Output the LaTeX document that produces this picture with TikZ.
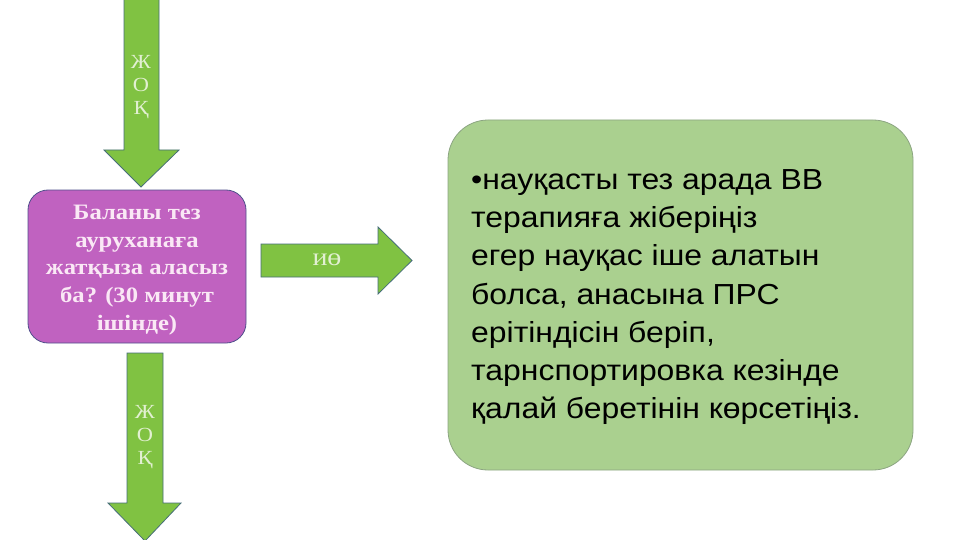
\documentclass[tikz,border=0pt]{standalone}
\usepackage{fontspec}
\setmainfont{Liberation Serif}
\newfontfamily\boxserif[FakeStretch=1.12]{Liberation Serif}
\newfontfamily\boxsans[FakeStretch=1.1]{Liberation Sans}
\definecolor{arrowgreen}{RGB}{128,194,66}
\definecolor{arrowedge}{RGB}{70,110,120}
\definecolor{arrowtext}{RGB}{226,240,210}
\definecolor{boxpurple}{RGB}{192,98,192}
\definecolor{purpleedge}{RGB}{80,80,140}
\definecolor{purpletext}{RGB}{250,232,245}
\definecolor{boxgreen}{RGB}{170,208,143}
\definecolor{greenedge}{RGB}{140,165,130}
\tikzset{
  blockarrow/.style={fill=arrowgreen, draw=arrowedge, line width=0.8pt, line join=miter},
  arrowlabel/.style={text=arrowtext, font=\boxserif\fontsize{20}{23}\selectfont, align=center, inner sep=0pt},
}
\begin{document}
\begin{tikzpicture}[x=1pt,y=-1pt]
\useasboundingbox (0,0) rectangle (960,540);
\fill[white] (0,0) rectangle (960,540);
% top arrow
\draw[blockarrow] (124,-1) -- (159,-1) -- (159,150) -- (179,150) -- (141,187) -- (104,150) -- (124,150) -- cycle;
\node[arrowlabel] (topno) at (141,87) {Ж\\О\\Қ};
% purple box
\node[draw=purpleedge, fill=boxpurple, line width=0.8pt, rounded corners=20pt,
      minimum width=218pt, minimum height=153pt, inner sep=0pt] (q) at (137,266.5) {};
\node[text=purpletext, align=center, inner sep=0pt,
      font=\boxserif\bfseries\fontsize{22}{27.8}\selectfont] (qt) at (137,270)
  {Баланы тез\\ауруханаға\\жатқыза аласыз\\ба? (30 минут\\ішінде)};
% bottom arrow
\draw[blockarrow] (127,353) -- (163,353) -- (163,503) -- (181,503) -- (145,541) -- (108,503) -- (127,503) -- cycle;
\node[arrowlabel] (botno) at (145,437) {Ж\\О\\Қ};
% right arrow
\draw[blockarrow] (261,244) -- (378,244) -- (378,227) -- (412,260.5) -- (378,294) -- (378,277) -- (261,277) -- cycle;
\node[arrowlabel, font=\boxserif\fontsize{25}{26}\selectfont] (yes) at (327,260) {иө};
% green box
\node[draw=greenedge, fill=boxgreen, line width=0.8pt, rounded corners=40pt,
      minimum width=465pt, minimum height=350pt, inner sep=0pt] (g) at (680.5,295) {};
\node[anchor=north west, align=left, inner sep=0pt, text=black,
      font=\boxsans\fontsize{29}{38.3}\selectfont] (gt) at (471,169)
  {•науқасты тез арада ВВ\\терапияға жіберіңіз\\егер науқас іше алатын\\болса, анасына ПРС\\ерітіндісін беріп,\\тарнспортировка кезінде\\қалай беретінін көрсетіңіз.};
\end{tikzpicture}
\end{document}
